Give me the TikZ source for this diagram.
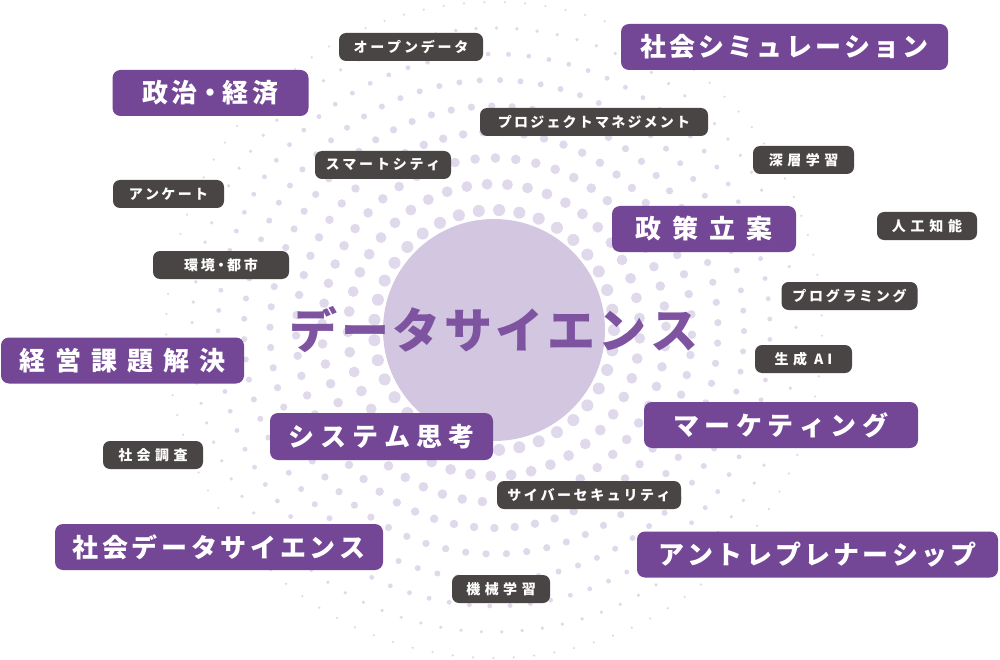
\documentclass[tikz,border=0pt]{standalone}
\usepackage{fontspec}
\newfontfamily\jp{Noto Sans CJK JP}
\definecolor{boxpurple}{HTML}{734696}
\definecolor{boxdark}{HTML}{4A4545}
\definecolor{titlec}{HTML}{7E54A0}
\definecolor{circc}{HTML}{D3C6E1}
\definecolor{dotc}{HTML}{E0D8EB}
\makeatletter
\def\lspaced#1#2{\def\ls@gap{#1}\ls@loop#2\relax}
\def\ls@loop#1{#1\ls@check}
\def\ls@check#1{\ifx\relax#1\else\hspace{\ls@gap}\expandafter\ls@loop\expandafter#1\fi}
\makeatother
\tikzset{
  pbox/.style={fill=boxpurple, text=white, rounded corners=8pt, inner sep=0pt,
    font=\jp\bfseries\fontsize{26}{26}\selectfont},
  dbox/.style={fill=boxdark, text=white, rounded corners=7pt, inner sep=0pt,
    font=\jp\bfseries\fontsize{14}{14}\selectfont},
  titletext/.style={text=titlec, inner sep=0pt, font=\jp\bfseries\fontsize{48}{48}\selectfont},
}
\begin{document}
\begin{tikzpicture}[x=1pt,y=-1pt]
\useasboundingbox (0,0) rectangle (1000,660);
\fill[white] (0,0) rectangle (1000,660);
% halftone dots
\foreach \k in {0,...,8}{
  \pgfmathsetmacro\r{120+26*\k}
  \pgfmathtruncatemacro\n{round(2*pi*\r/20.5)}
  \pgfmathsetmacro\st{360/\n}
  \pgfmathsetmacro\dr{6-0.023*(\r-120)}
  \pgfmathsetmacro\off{\k*0.41*\st}
  \foreach \i in {1,...,\n}{
    \fill[dotc] ({494+\r*cos(\i*\st+\off)},{330+\r*sin(\i*\st+\off)}) circle (\dr pt);
  }
}
\node[circle, fill=circc, minimum size=222pt, inner sep=0pt] (core) at (494,330) {};
\node[titletext] (title) at (494,330) {\lspaced{3.5pt}{データサイエンス}};
% purple boxes
\node[pbox, minimum width=327pt, minimum height=46pt] (socsim) at (784.5,47) {\lspaced{3.1pt}{社会シミュレーション}};
\node[pbox, minimum width=196pt, minimum height=46pt] (poleco) at (210.5,93) {政\hspace{4pt}治\hspace{-1pt}・\hspace{-1pt}経\hspace{5pt}済};
\node[pbox, minimum width=184pt, minimum height=46pt] (policy) at (704,229) {\lspaced{11pt}{政策立案}};
\node[pbox, minimum width=243pt, minimum height=46pt] (mgmt) at (122.5,360.5) {\lspaced{10.2pt}{経営課題解決}};
\node[pbox, minimum width=223pt, minimum height=47pt] (systh) at (381.5,436.5) {\lspaced{6pt}{システム思考}};
\node[pbox, minimum width=274pt, minimum height=46pt] (mkt) at (781,425) {\lspaced{5.5pt}{マーケティング}};
\node[pbox, minimum width=328pt, minimum height=46pt] (socds) at (219,547) {\lspaced{3.7pt}{社会データサイエンス}};
\node[pbox, minimum width=361pt, minimum height=46pt] (entre) at (817.5,554.5) {\lspaced{3.2pt}{アントレプレナーシップ}};
% dark boxes
\node[dbox, minimum width=144pt, minimum height=28pt] (open) at (411,47) {\lspaced{2.8pt}{オープンデータ}};
\node[dbox, minimum width=228pt, minimum height=28pt] (pm) at (594,122) {\lspaced{2.2pt}{プロジェクトマネジメント}};
\node[dbox, minimum width=136pt, minimum height=28pt] (smart) at (383,165) {\lspaced{2.8pt}{スマートシティ}};
\node[dbox, minimum width=101pt, minimum height=28pt] (deep) at (803.5,160) {\lspaced{4.5pt}{深層学習}};
\node[dbox, minimum width=111pt, minimum height=28pt] (enq) at (168.5,194) {\lspaced{2.3pt}{アンケート}};
\node[dbox, minimum width=100pt, minimum height=28pt] (ai) at (927,226) {\lspaced{4.7pt}{人工知能}};
\node[dbox, minimum width=136pt, minimum height=28pt] (env) at (221,265) {環\hspace{3pt}境\hspace{-1pt}・\hspace{-1pt}都\hspace{3pt}市};
\node[dbox, minimum width=136pt, minimum height=28pt] (prog) at (849.5,296) {\lspaced{2.7pt}{プログラミング}};
\node[dbox, minimum width=97pt, minimum height=28pt] (genai) at (803.5,359) {生\hspace{4.5pt}成\hspace{7pt}A\hspace{4pt}I};
\node[dbox, minimum width=100pt, minimum height=28pt] (survey) at (153,455) {\lspaced{4.5pt}{社会調査}};
\node[dbox, minimum width=184pt, minimum height=28pt] (cyber) at (589,495) {\lspaced{2.6pt}{サイバーセキュリティ}};
\node[dbox, minimum width=98pt, minimum height=28pt] (ml) at (501,589) {\lspaced{4.5pt}{機械学習}};
\end{tikzpicture}
\end{document}
